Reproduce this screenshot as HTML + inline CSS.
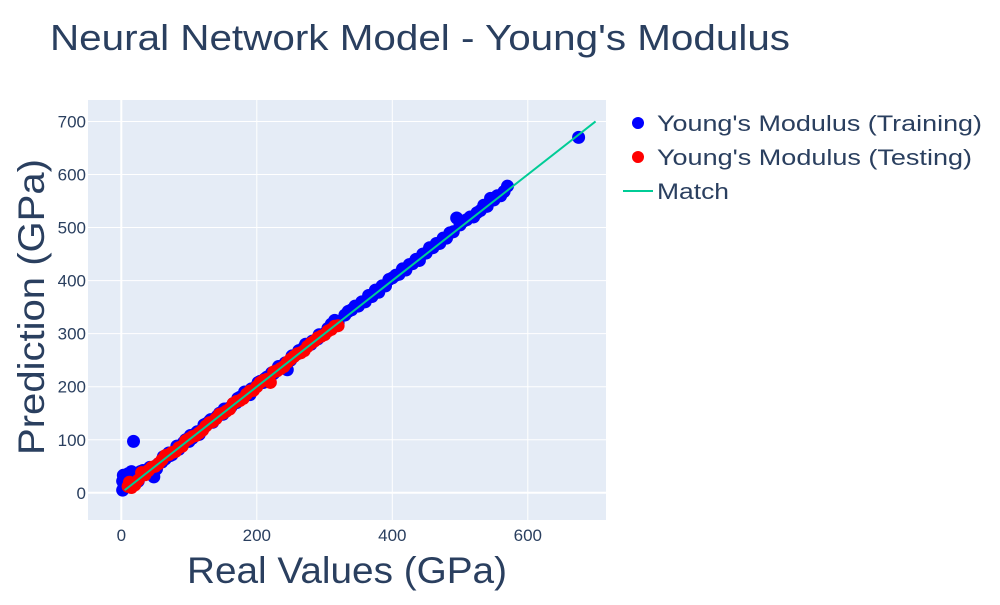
<!DOCTYPE html>
<html><head><meta charset="utf-8"><style>
body{margin:0;background:#fff;font-family:"Liberation Sans",sans-serif;}
svg text{font-family:"Liberation Sans",sans-serif;fill:#2a3f5f;}
</style></head><body>
<svg id="chart" width="1000" height="600">
<text x="50" y="50" font-size="36" textLength="740" lengthAdjust="spacingAndGlyphs">Neural Network Model - Young's Modulus</text>
<rect x="88" y="100" width="518" height="420" fill="#e5ecf6"/>
<g id="grid"></g><g id="marks"></g><g id="ticks"></g>
<text x="187" y="583" font-size="37" textLength="320" lengthAdjust="spacingAndGlyphs">Real Values (GPa)</text>
<text transform="translate(44,455) rotate(-90)" font-size="37" textLength="296" lengthAdjust="spacingAndGlyphs">Prediction (GPa)</text>
<g>
<circle cx="638" cy="123" r="6" fill="#0000ff"/>
<text x="657" y="131" font-size="22" textLength="325" lengthAdjust="spacingAndGlyphs">Young's Modulus (Training)</text>
<circle cx="638" cy="157" r="6" fill="#ff0000"/>
<text x="657" y="165" font-size="22" textLength="315" lengthAdjust="spacingAndGlyphs">Young's Modulus (Testing)</text>
<line x1="623" y1="191" x2="653" y2="191" stroke="#00cc96" stroke-width="2"/>
<text x="657" y="199" font-size="22" textLength="72" lengthAdjust="spacingAndGlyphs">Match</text>
</g>
</svg>
<script>
const xTicks=[0,200,400,600];
const yTicks=[0,100,200,300,400,500,600,700];
const trainReal=[2,3,5,4,8,10,15,18,20,25,28,30,35,40,45,48,50,55,60,65,70,75,80,85,90,95,100,105,110,115,120,125,130,135,140,145,150,155,160,165,170,175,180,185,190,195,200,205,210,215,220,225,230,240,245,250,255,260,270,275,280,290,300,305,310,315,320,330,340,350,360,370,380,390,400,410,420,430,440,450,460,470,480,490,495,500,510,520,530,540,545,550,560,570,675,2,18,12,22,32,42,52,62,72,82,92,102,112,122,132,142,152,162,172,182,192,202,212,222,232,242,252,262,272,282,292,335,345,355,365,375,385,395,405,415,425,435,445,455,465,475,485,505,515,525,535,555,565];
const trainPred=[5,33,20,12,28,36,40,25,30,22,40,38,35,44,38,30,50,55,58,64,75,72,80,82,90,100,97,103,112,110,120,130,135,133,142,150,148,158,160,168,170,180,183,188,185,195,202,210,208,218,218,225,232,240,232,250,258,262,275,278,280,290,300,310,318,325,320,335,345,352,360,370,378,390,405,412,420,432,438,452,462,470,480,492,518,505,515,520,532,540,555,552,560,578,670,22,97,18,30,42,48,45,68,70,88,95,108,115,128,138,145,158,162,178,190,196,208,215,226,238,245,258,268,280,286,298,342,352,360,372,382,390,402,410,422,430,440,450,462,470,480,490,512,520,528,542,560,568];
const testReal=[10,15,20,25,30,35,40,50,60,70,80,90,100,110,120,130,140,150,160,170,180,190,200,210,220,230,240,250,260,270,280,290,300,310,320,12,45,55,65,75,85,95,105,115,125,135,145,155,165,175,185,195,205,215,225,235,245,255,265,275,285,295,305,315];
const testPred=[12,10,15,24,38,34,42,50,62,72,78,88,102,108,118,132,140,150,158,172,178,192,200,212,208,230,238,252,262,268,282,292,298,308,315,20,48,55,70,76,85,98,106,113,126,134,148,154,168,174,186,193,208,214,228,234,246,257,264,276,286,295,305,314];
const matchX=[5,700];
const sx=v=>121.3+v*0.6775, sy=v=>492.8-v*0.5305;
const NS="http://www.w3.org/2000/svg";
const grid=document.getElementById('grid'),marks=document.getElementById('marks'),ticks=document.getElementById('ticks');
function mk(tag,attrs,parent){const e=document.createElementNS(NS,tag);for(const k in attrs)e.setAttribute(k,attrs[k]);parent.appendChild(e);return e;}
xTicks.forEach(t=>{
 const l=mk('line',{x1:sx(t),x2:sx(t),y1:100,y2:520,stroke:'#fff','stroke-width':t===0?2:1},grid);
 
 
 const tx=mk('text',{x:sx(t),y:541,'font-size':17,'text-anchor':'middle'},ticks);tx.textContent=t;
 
 
});
yTicks.forEach(t=>{
 const l=mk('line',{x1:88,x2:606,y1:sy(t),y2:sy(t),stroke:'#fff','stroke-width':t===0?2:1},grid);
 
 
 const tx=mk('text',{x:86,y:sy(t)+6,'font-size':17,'text-anchor':'end'},ticks);tx.textContent=t;
 
 
});
trainReal.forEach((v,i)=>{
 const c=mk('circle',{cx:sx(v),cy:sy(trainPred[i]),r:6.5,fill:'#0000ff'},marks);
 
 
});
testReal.forEach((v,i)=>{
 const c=mk('circle',{cx:sx(v),cy:sy(testPred[i]),r:6.5,fill:'#ff0000'},marks);
 
 
});
const ml=mk('line',{x1:sx(matchX[0]),y1:sy(matchX[0]),x2:sx(matchX[1]),y2:sy(matchX[1]),stroke:'#00cc96','stroke-width':2},marks);


</script>
</body></html>
